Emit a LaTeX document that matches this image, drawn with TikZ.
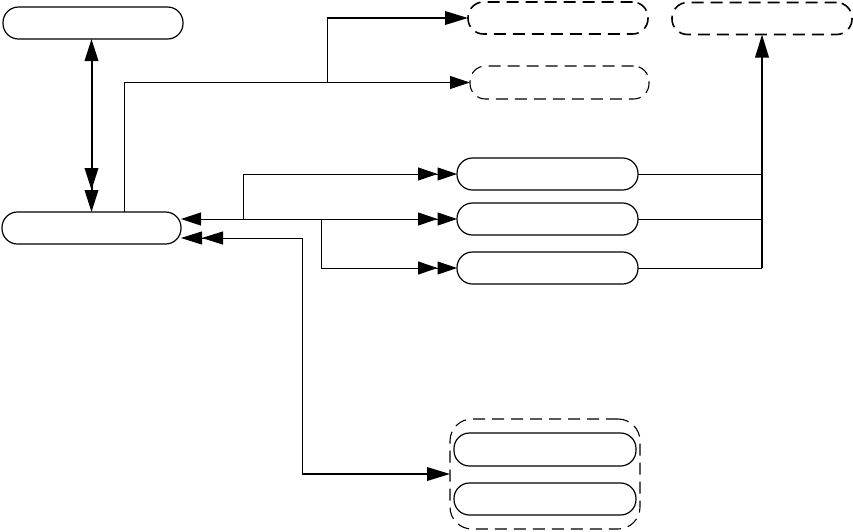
\documentclass[tikz,border=0pt]{standalone}
\usetikzlibrary{arrows.meta,calc}
\begin{document}
\begin{tikzpicture}[x=1pt,y=-1pt,
 box/.style={draw,line width=1.2pt,rounded corners=15.5pt,minimum width=181pt,minimum height=32pt,inner sep=0pt,outer sep=0pt},
 dbox/.style={box,dash pattern=on 12pt off 7pt},
 thinline/.style={line width=1pt},
 thickline/.style={line width=2pt},
 tipone/.style={-{Triangle[length=20pt,width=13pt]}},
 tipbig/.style={-{Triangle[length=23pt,width=13.5pt]}},
 tipdbl/.style={-{Triangle[length=19.5pt,width=13pt,sep=0pt]Triangle[length=19.5pt,width=13pt]}}
]
\useasboundingbox (0,0) rectangle (853,531);

% nodes
\node[box,minimum width=180pt] (A) at (93,23) {};
\node[box,minimum width=179pt] (B) at (91.5,228) {};
\node[dbox,line width=1.6pt,minimum width=180pt] (D1) at (558,18) {};
\node[dbox,line width=1.6pt,minimum width=180pt] (D2) at (762,18.5) {};
\node[dbox,line width=1.1pt,minimum width=179pt,minimum height=33pt] (D3) at (559.5,82.5) {};
\node[box] (C1) at (547.5,174) {};
\node[box] (C2) at (547.5,219) {};
\node[box] (C3) at (547.5,268) {};
\node[draw,line width=1.1pt,dash pattern=on 12pt off 7pt,rounded corners=22pt,minimum width=190pt,minimum height=110pt,inner sep=0pt,outer sep=0pt] (G) at (545,474) {};
\node[box,minimum width=182pt,minimum height=33pt] (G1) at (545,449.5) {};
\node[box,minimum width=182pt] (G2) at (545,499) {};

% A <-> B
\draw[thickline,{Triangle[length=22pt,width=13.5pt]}-{Triangle[length=22pt,width=13.5pt,sep=0pt]Triangle[length=22pt,width=13.5pt]}] (A.south -| B.north) -- (B.north);

% B <-> C2 and branches
\draw[thinline,{Triangle[length=20pt,width=13pt]}-{Triangle[length=19.5pt,width=13pt,sep=0pt]Triangle[length=19.5pt,width=13pt]}] (B.east |- C2.west) -- (C2.west);
\coordinate (j1) at (243,219);
\coordinate (j2) at (321,219);
\draw[thinline,tipdbl] (j1) |- (C1.west);
\draw[thinline,tipdbl] (j2) |- (C3.west);

% group connector
\coordinate (k1) at (302,238);
\draw[thinline,{Triangle[length=21pt,width=13pt,sep=0pt]Triangle[length=21pt,width=13pt]}-] ([yshift=-10pt]B.east) -- (k1) -- (k1 |- G.west);
\draw[thickline,tipbig] (k1 |- G.west) -- (G.west);

% top connectors
\draw[thinline,tipone] ([xshift=32.5pt]B.north) |- (D3.west);
\coordinate (t2) at (327,82.5);
\draw[thinline] (t2) -- (t2 |- D1.west);
\draw[thickline,tipbig] (t2 |- D1.west) -- (D1.west);

% right connectors
\draw[thinline] (C1.east) -- (D2.south |- C1.east);
\draw[thinline] (C2.east) -- (D2.south |- C2.east);
\draw[thinline] (C3.east) -- (D2.south |- C3.east);
\draw[thickline,tipbig] (D2.south |- C3.east) -- (D2.south);
\end{tikzpicture}
\end{document}
